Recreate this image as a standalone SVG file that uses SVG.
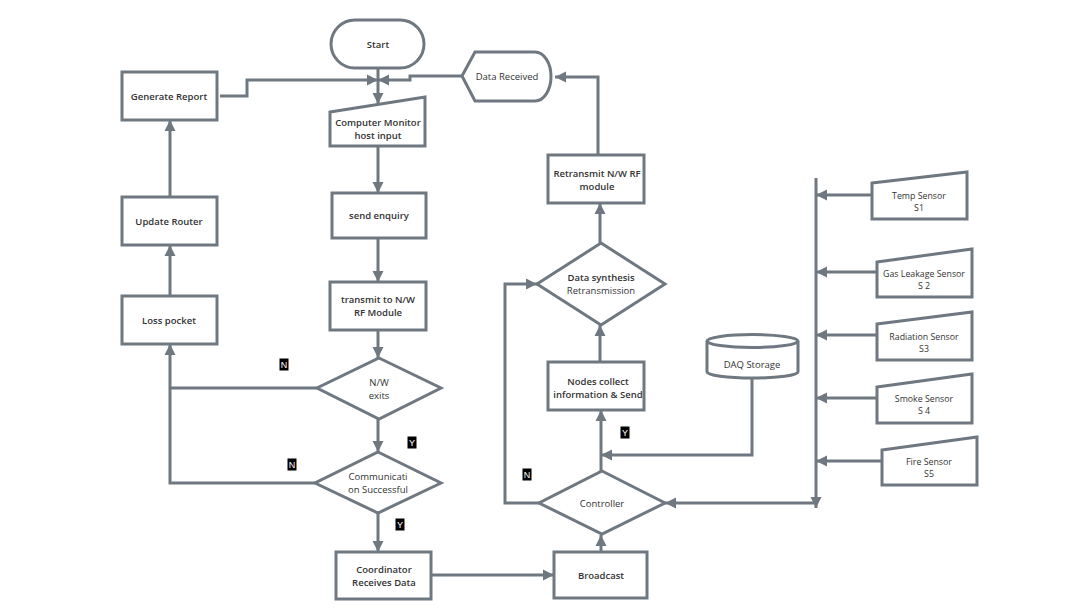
<svg xmlns="http://www.w3.org/2000/svg" width="1071" height="614" viewBox="0 0 1071 614">
<defs>
<marker id="ah" markerUnits="userSpaceOnUse" markerWidth="12" markerHeight="12" viewBox="0 0 12 12" refX="11" refY="6" orient="auto"><path d="M0,0.5 L11,6 L0,11.5 Z" fill="#6f7880"/></marker>
<style>
.s{fill:#fff;stroke:#6f7880;stroke-width:3}
.c{fill:none;stroke:#6f7880;stroke-width:3;marker-end:url(#ah)}
.n{fill:none;stroke:#6f7880;stroke-width:3}
text{font-family:"Open Sans","Noto Sans","Liberation Sans",sans-serif;font-size:9.5px;fill:#333;text-anchor:middle}
.b{font-weight:600}
.sm{font-size:8.8px}
.lb{fill:#000;stroke:#fff;stroke-width:1}
.lt{fill:#fff;font-size:9px;font-family:"Liberation Sans",sans-serif}
</style>
</defs>
<rect width="1071" height="614" fill="#fff"/>
<g id="connectors">
<path class="n" d="M378,68 V80"/>
<path class="c" d="M378,80 V104"/>
<path class="c" d="M220,96 H247 V80 H378"/>
<path class="c" d="M462,76 H410 V80 H378"/>
<path class="c" d="M598,155 V77 H555"/>
<path class="c" d="M378,146 V193"/>
<path class="c" d="M378,238 V282"/>
<path class="c" d="M378,330 V358"/>
<path class="c" d="M378,419 V452"/>
<path class="c" d="M378,513 V552"/>
<path class="n" d="M317,388 H170"/>
<path class="c" d="M315,483 H170 V344"/>
<path class="c" d="M170,296 V245"/>
<path class="c" d="M170,197 V120"/>
<path class="c" d="M431,575 H554"/>
<path class="c" d="M601,552 V535"/>
<path class="c" d="M601,471 V410"/>
<path class="c" d="M600,362 V325"/>
<path class="c" d="M600,243 V203"/>
<path class="c" d="M539,503 H505 V284 H537"/>
<path class="c" d="M752,378 V455 H601"/>
<path class="c" d="M816,178 V508"/>
<path class="c" d="M816,503 H665"/>
<path class="c" d="M872,195 H816"/>
<path class="c" d="M877,272 H816"/>
<path class="c" d="M877,335 H816"/>
<path class="c" d="M877,398 H816"/>
<path class="c" d="M882,461 H816"/>
</g>
<g id="start"><rect class="s" x="331" y="20" width="93" height="48" rx="24"/><text class="b" x="378" y="48">Start</text></g>
<g id="generate-report"><rect class="s" x="122" y="72" width="95" height="48"/><text class="b" x="169" y="100">Generate Report</text></g>
<g id="computer-monitor"><path class="s" d="M330,112 L425,97 V146 H330 Z"/><text class="b" x="378" y="126">Computer Monitor</text><text class="b" x="378" y="139">host input</text></g>
<g id="data-received"><path class="s" d="M462,76 L475,52 H535 A16,24.5 0 0 1 535,101 H475 Z"/><text x="507" y="80">Data Received</text></g>
<g id="send-enquiry"><rect class="s" x="332" y="193" width="94" height="45"/><text class="b" x="379" y="219">send enquiry</text></g>
<g id="transmit"><rect class="s" x="330" y="282" width="96" height="48"/><text class="b" x="378" y="303">transmit to N/W</text><text class="b" x="378" y="316">RF Module</text></g>
<g id="nw-exits"><path class="s" d="M379,358 L441,388 L379,419 L317,388 Z"/><text x="379" y="386">N/W</text><text x="379" y="399">exits</text></g>
<g id="comm-successful"><path class="s" d="M378,452 L441,483 L378,513 L315,483 Z"/><text x="378" y="480">Communicati</text><text x="378" y="493">on Successful</text></g>
<g id="coordinator"><rect class="s" x="336" y="552" width="95" height="47"/><text class="b" x="384" y="573">Coordinator</text><text class="b" x="384" y="586">Receives Data</text></g>
<g id="broadcast"><rect class="s" x="554" y="552" width="93" height="46"/><text class="b" x="601" y="579">Broadcast</text></g>
<g id="controller"><path class="s" d="M602,471 L665,503 L602,534 L539,503 Z"/><text x="602" y="507">Controller</text></g>
<g id="nodes-collect"><rect class="s" x="548" y="362" width="96" height="48"/><text class="b" x="598" y="385">Nodes collect</text><text class="b" x="598" y="398">information &amp; Send</text></g>
<g id="data-synthesis"><path class="s" d="M601,243 L665,284 L601,325 L537,284 Z"/><text class="b" x="601" y="281">Data synthesis</text><text x="601" y="294">Retransmission</text></g>
<g id="retransmit"><rect class="s" x="548" y="155" width="96" height="48"/><text class="b" x="597" y="177">Retransmit N/W RF</text><text class="b" x="597" y="190">module</text></g>
<g id="daq-storage"><path class="s" d="M707,341 V372 A45.5,6 0 0 0 798,372 V341"/><ellipse class="s" cx="752.5" cy="341" rx="45.5" ry="6.5"/><text x="752" y="368">DAQ Storage</text></g>
<g id="update-router"><rect class="s" x="122" y="197" width="95" height="48"/><text class="b" x="169" y="225">Update Router</text></g>
<g id="loss-pocket"><rect class="s" x="122" y="296" width="95" height="48"/><text class="b" x="169" y="324">Loss pocket</text></g>
<g id="temp-sensor"><path class="s" d="M872,183 L967,172 V219 H872 Z"/><text class="sm" x="919" y="199">Temp Sensor</text><text class="sm" x="919" y="211">S1</text></g>
<g id="gas-sensor"><path class="s" d="M877,262 L972,249 V297 H877 Z"/><text class="sm" x="924" y="277">Gas Leakage Sensor</text><text class="sm" x="924" y="289">S 2</text></g>
<g id="radiation-sensor"><path class="s" d="M877,324 L972,312 V360 H877 Z"/><text class="sm" x="924" y="340">Radiation Sensor</text><text class="sm" x="924" y="352">S3</text></g>
<g id="smoke-sensor"><path class="s" d="M877,387 L972,374 V423 H877 Z"/><text class="sm" x="924" y="402">Smoke Sensor</text><text class="sm" x="924" y="414">S 4</text></g>
<g id="fire-sensor"><path class="s" d="M882,450 L977,437 V485 H882 Z"/><text class="sm" x="929" y="465">Fire Sensor</text><text class="sm" x="929" y="477">S5</text></g>
<g id="labels">
<rect class="lb" x="279" y="358" width="10" height="13"/><text class="lt" x="284" y="368">N</text>
<rect class="lb" x="407" y="436" width="10" height="13"/><text class="lt" x="412" y="446">Y</text>
<rect class="lb" x="287" y="458" width="10" height="13"/><text class="lt" x="292" y="468">N</text>
<rect class="lb" x="395" y="518" width="10" height="13"/><text class="lt" x="400" y="528">Y</text>
<rect class="lb" x="620" y="426" width="10" height="13"/><text class="lt" x="625" y="436">Y</text>
<rect class="lb" x="522" y="468" width="10" height="13"/><text class="lt" x="527" y="478">N</text>
</g>
</svg>
